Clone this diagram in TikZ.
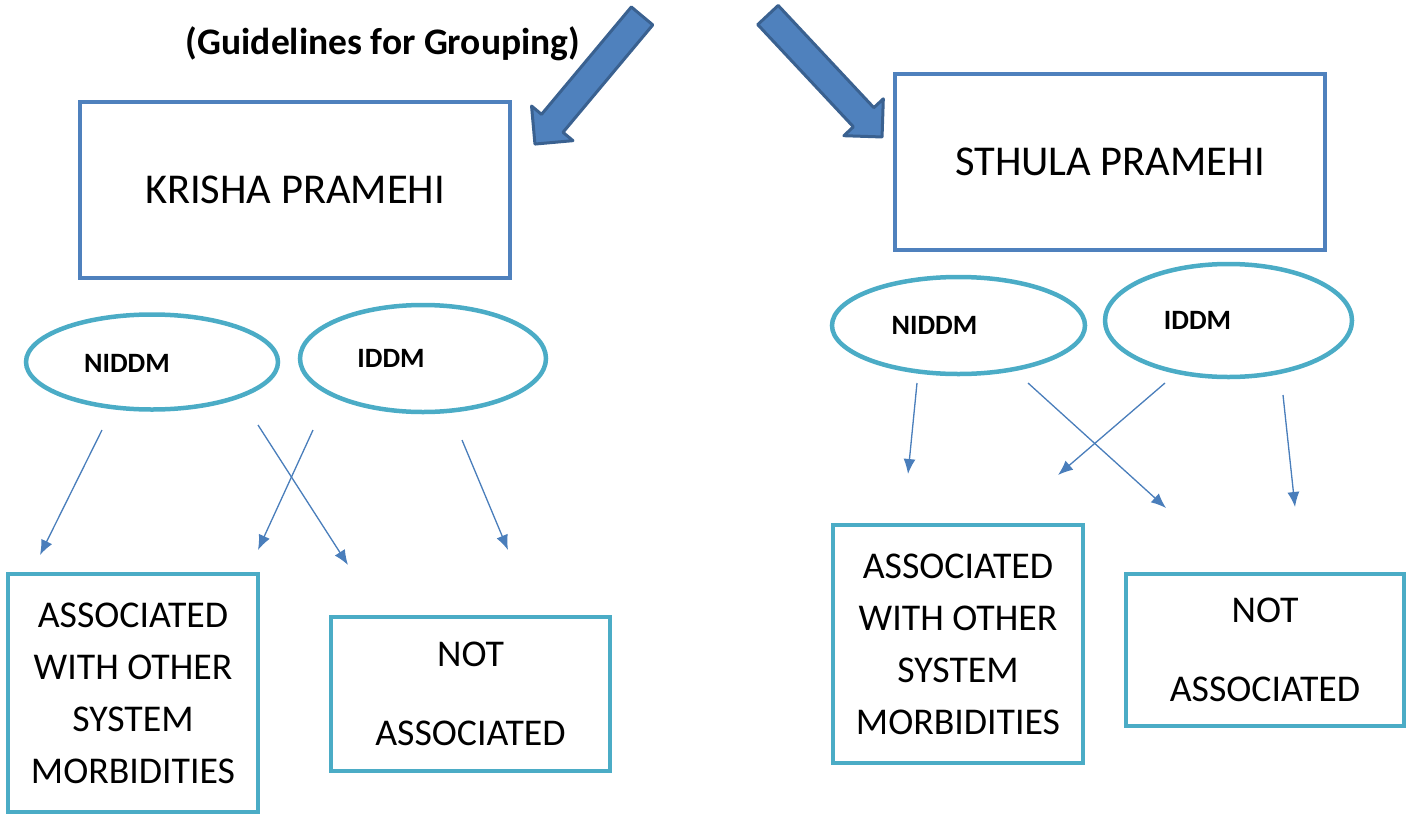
\documentclass[tikz,border=0pt]{standalone}
\usepackage{fontspec}
\setmainfont{Carlito}
\usetikzlibrary{arrows.meta,shapes.geometric}
\definecolor{boxblue}{HTML}{4F81BD}
\definecolor{darkblue}{HTML}{3A6190}
\definecolor{tealline}{HTML}{4BACC6}
\definecolor{arrowblue}{HTML}{4A7EBB}

\begin{document}
\begin{tikzpicture}[x=1pt,y=-1pt,>={Latex[length=15pt,width=12pt]},
  group node/.style={rectangle,draw=boxblue,line width=4pt,minimum width=430pt,minimum height=176pt,font=\fontsize{42.5}{50}\selectfont},
  type node/.style={ellipse,draw=tealline,line width=4.5pt,inner sep=0pt},
  type label/.style={font=\bfseries\fontsize{28}{32}\selectfont},
  result node/.style={rectangle,draw=tealline,line width=4.5pt,align=center,font=\fontsize{37.8}{52}\selectfont},
  thin arrow/.style={->,draw=arrowblue,fill=arrowblue,line width=1.3pt},
  big arrow/.style={fill=boxblue,draw=darkblue,line width=3pt,line join=round}]

  \useasboundingbox (0,0) rectangle (1413,814);

  \node[font=\bfseries\fontsize{37.5}{42}\selectfont] (title) at (383,44) {(Guidelines for Grouping)};

  % the two block arrows
  \draw[big arrow,shift={(588.5,80)},rotate=230.1]
    (-83.5,-14) -- (56.5,-14) -- (56.5,-27) -- (83.5,0) -- (56.5,27) -- (56.5,14) -- (-83.5,14) -- cycle;
  \draw[big arrow,shift={(825,76)},rotate=-46.9]
    (-83.5,-14) -- (56.5,-14) -- (56.5,-27) -- (83.5,0) -- (56.5,27) -- (56.5,14) -- (-83.5,14) -- cycle;

  \node[group node] (krisha) at (295,189.5) {KRISHA PRAMEHI};
  \node[group node] (sthula) at (1110,162) {STHULA PRAMEHI};

  \node[type node,minimum width=252pt,minimum height=95pt] (kniddm) at (152,362) {};
  \node[type node,minimum width=246pt,minimum height=107pt] (kiddm) at (423,358.5) {};
  \node[type node,minimum width=253pt,minimum height=97pt] (sniddm) at (958.5,325.5) {};
  \node[type node,minimum width=247pt,minimum height=113pt] (siddm) at (1228.5,320.5) {};

  \node[type label] (kniddmt) at ([xshift=-25pt,yshift=-1pt]kniddm.center) {NIDDM};
  \node[type label] (kiddmt) at ([xshift=-32pt]kiddm.center) {IDDM};
  \node[type label] (sniddmt) at ([xshift=-24pt]sniddm.center) {NIDDM};
  \node[type label] (siddmt) at ([xshift=-31pt]siddm.center) {IDDM};

  \node[result node,minimum width=250pt,minimum height=238pt] (kassoc) at (133,693)
    {ASSOCIATED\\WITH OTHER\\SYSTEM\\MORBIDITIES};
  \node[result node,minimum width=279pt,minimum height=154pt] (knot) at (470.5,694)
    {NOT\\[27pt]ASSOCIATED};
  \node[result node,minimum width=250pt,minimum height=238pt] (sassoc) at (958,644)
    {ASSOCIATED\\WITH OTHER\\SYSTEM\\MORBIDITIES};
  \node[result node,minimum width=278pt,minimum height=152pt] (snot) at (1265,650)
    {NOT\\[27pt]ASSOCIATED};

  % free ends of the thin arrows
  \coordinate (k1a) at (102,430); \coordinate (k1b) at (40,555);
  \coordinate (k2a) at (258,425); \coordinate (k2b) at (348,565);
  \coordinate (k3a) at (313,430); \coordinate (k3b) at (258,550);
  \coordinate (k4a) at (462,440); \coordinate (k4b) at (508,550);
  \coordinate (s1a) at (917,383); \coordinate (s1b) at (908,474);
  \coordinate (s2a) at (1028,383); \coordinate (s2b) at (1166,508);
  \coordinate (s3a) at (1165,383); \coordinate (s3b) at (1058,475);
  \coordinate (s4a) at (1283,395); \coordinate (s4b) at (1295,507);

  \foreach \n in {k1,k2,k3,k4,s1,s2,s3,s4}
    \draw[thin arrow] (\n a) -- (\n b);
\end{tikzpicture}
\end{document}
